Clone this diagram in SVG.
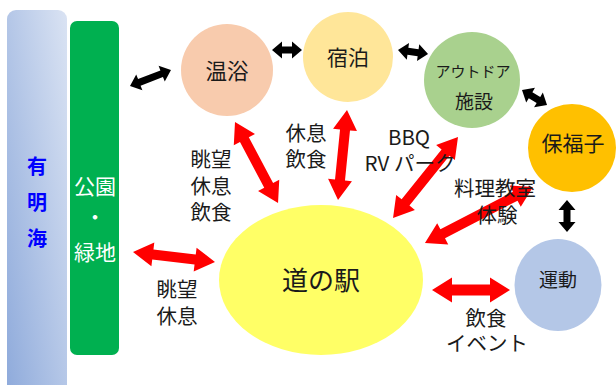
<svg xmlns="http://www.w3.org/2000/svg" width="616" height="385" viewBox="0 0 616 385">
<defs>
<linearGradient id="sea" x1="0" y1="1" x2="1" y2="0">
<stop offset="0" stop-color="#8eaadb"/>
<stop offset="1" stop-color="#dae3f3"/>
</linearGradient>
</defs>
<style>
text{font-family:"Noto Sans CJK JP","Noto Sans",sans-serif;text-anchor:middle;dominant-baseline:central;fill:#1a1a1a}
.lbl{font-size:20.5px}
.red{fill:#ff0000}
.blk{fill:#000}
</style>
<rect width="616" height="385" fill="#fff"/>
<g id="sea-bar">
<rect x="7" y="10" width="60" height="390" rx="9" fill="url(#sea)"/>
<text x="37" y="165" style="fill:#0000ff;font-size:20px;font-weight:bold">有</text>
<text x="37" y="201" style="fill:#0000ff;font-size:20px;font-weight:bold">明</text>
<text x="37" y="237" style="fill:#0000ff;font-size:20px;font-weight:bold">海</text>
</g>
<g id="park">
<rect x="70" y="21" width="49" height="334" rx="7" fill="#00b050"/>
<text x="95" y="185" style="fill:#fff;font-size:21px">公園</text>
<text x="95" y="216" style="fill:#fff;font-size:21px">・</text>
<text x="95" y="251" style="fill:#fff;font-size:21px">緑地</text>
</g>
<g id="connectors">
<path class="red" transform="translate(235,122) rotate(62)" d="M0,0 L20,-12 L20,-5 L71.7,-5 L71.7,-12 L91.7,0 L71.7,12 L71.7,5 L20,5 L20,12 Z"/>
<path class="red" transform="translate(347,110) rotate(95.7)" d="M0,0 L20,-12 L20,-5 L70.4,-5 L70.4,-12 L90.4,0 L70.4,12 L70.4,5 L20,5 L20,12 Z"/>
<path class="red" transform="translate(458,137) rotate(128.7)" d="M0,0 L20,-12 L20,-5 L83.9,-5 L83.9,-12 L103.9,0 L83.9,12 L83.9,5 L20,5 L20,12 Z"/>
<path class="red" transform="translate(533,187) rotate(152.6)" d="M0,0 L20,-12 L20,-5 L101.7,-5 L101.7,-12 L121.7,0 L101.7,12 L101.7,5 L20,5 L20,12 Z"/>
<path class="red" transform="translate(133,252) rotate(6.95)" d="M0,0 L20,-12 L20,-5 L62.6,-5 L62.6,-12 L82.6,0 L62.6,12 L62.6,5 L20,5 L20,12 Z"/>
<path class="red" transform="translate(432,290)" d="M0,0 L20,-12.5 L20,-5.5 L58,-5.5 L58,-12.5 L78,0 L58,12.5 L58,5.5 L20,5.5 L20,12.5 Z"/>
<path class="blk" transform="translate(130,86) rotate(-21.3)" d="M0,0 L10,-8.5 L10,-3.5 L34,-3.5 L34,-8.5 L44,0 L34,8.5 L34,3.5 L10,3.5 L10,8.5 Z"/>
<path class="blk" transform="translate(272,50)" d="M0,0 L10,-8.5 L10,-3.5 L20,-3.5 L20,-8.5 L30,0 L20,8.5 L20,3.5 L10,3.5 L10,8.5 Z"/>
<path class="blk" transform="translate(398,50) rotate(7.6)" d="M0,0 L10,-8.5 L10,-3.5 L20.3,-3.5 L20.3,-8.5 L30.3,0 L20.3,8.5 L20.3,3.5 L10,3.5 L10,8.5 Z"/>
<path class="blk" transform="translate(522,90) rotate(31)" d="M0,0 L10,-8.5 L10,-3.5 L19.2,-3.5 L19.2,-8.5 L29.2,0 L19.2,8.5 L19.2,3.5 L10,3.5 L10,8.5 Z"/>
<path class="blk" transform="translate(567,200) rotate(90)" d="M0,0 L10,-8.5 L10,-3.5 L22,-3.5 L22,-8.5 L32,0 L22,8.5 L22,3.5 L10,3.5 L10,8.5 Z"/>
</g>
<g id="onsen">
<circle cx="227" cy="70" r="46" fill="#f8cbad"/>
<text x="227" y="69" style="font-size:21.5px">温浴</text>
</g>
<g id="shukuhaku">
<circle cx="348" cy="57" r="45" fill="#ffe699"/>
<text x="348" y="56" style="font-size:21px">宿泊</text>
</g>
<g id="outdoor">
<circle cx="472" cy="80" r="48" fill="#a9d18e"/>
<text x="473" y="70" style="font-size:15px">アウトドア</text>
<text x="474" y="100" style="font-size:19px">施設</text>
</g>
<g id="hofukushi">
<circle cx="572" cy="148" r="44" fill="#ffc000"/>
<text x="573" y="142" style="font-size:21px">保福子</text>
</g>
<g id="undo">
<ellipse cx="558" cy="285" rx="43.5" ry="46" fill="#b4c7e7"/>
<text x="558" y="278" style="font-size:19px">運動</text>
</g>
<g id="michinoeki">
<ellipse cx="321" cy="280" rx="102" ry="75" fill="#ffff66"/>
<text x="321" y="278" style="font-size:26px">道の駅</text>
</g>
<g id="labels">
<text class="lbl" x="211" y="158">眺望</text>
<text class="lbl" x="211" y="185">休息</text>
<text class="lbl" x="211" y="211">飲食</text>
<text class="lbl" x="306" y="132">休息</text>
<text class="lbl" x="306" y="158">飲食</text>
<text class="lbl" x="409" y="136">BBQ</text>
<text class="lbl" x="410" y="162">RV パーク</text>
<text class="lbl" x="495" y="187">料理教室</text>
<text class="lbl" x="497" y="214">体験</text>
<text class="lbl" x="177" y="288">眺望</text>
<text class="lbl" x="177" y="315">休息</text>
<text class="lbl" x="486" y="317">飲食</text>
<text class="lbl" x="487" y="342">イベント</text>
</g>
</svg>
